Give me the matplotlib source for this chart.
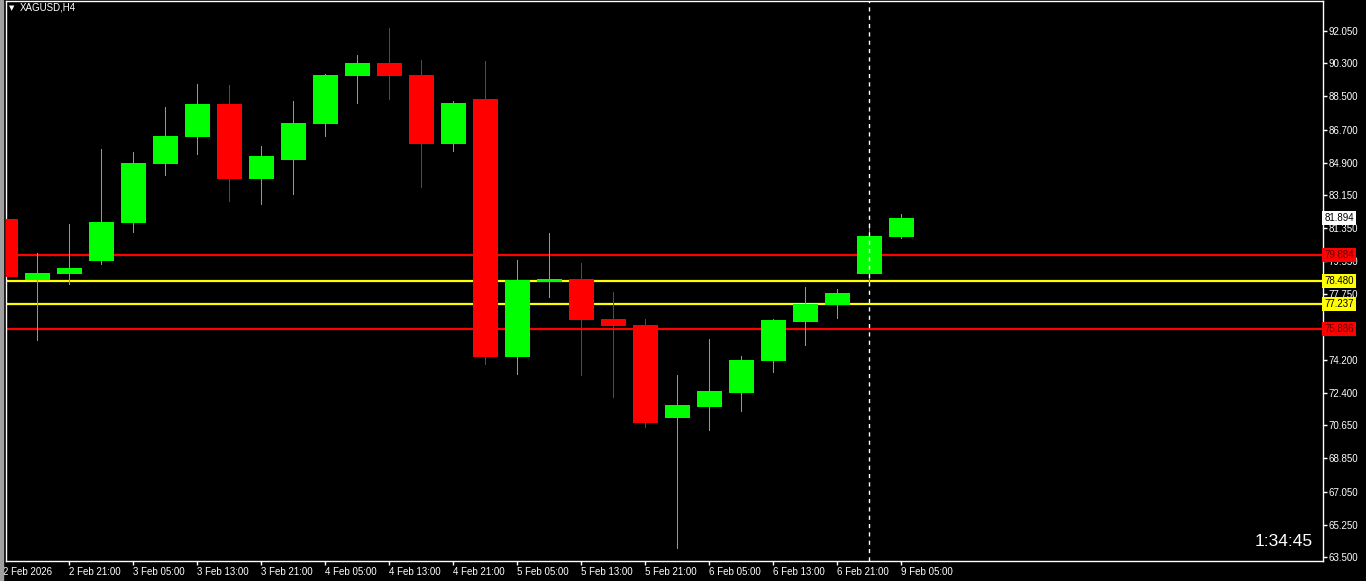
import numpy as np
import matplotlib.pyplot as plt
from matplotlib.patches import Rectangle

# XAGUSD H4 bars, 2 Feb 13:00 .. 9 Feb 05:00
opens  = [81.85, 78.54, 78.86, 79.57, 81.63, 84.83, 86.30, 88.09, 84.02, 85.05,
          87.00, 89.61, 90.31, 89.66, 85.92, 88.36, 74.36, 78.43, 78.59, 76.42,
          76.09, 71.04, 71.64, 72.40, 74.14, 76.26, 77.18, 78.86, 80.87]
highs  = [84.40, 80.00, 81.57, 85.65, 85.48, 87.93, 89.17, 89.12, 85.81, 88.25,
          89.72, 90.75, 92.21, 90.48, 88.25, 90.42, 79.62, 81.09, 79.46, 77.88,
          76.42, 73.38, 75.33, 74.41, 76.42, 78.16, 78.05, 81.63, 82.12]
lows   = [77.88, 75.28, 78.32, 79.40, 81.14, 84.23, 85.37, 82.82, 82.66, 83.20,
          86.35, 88.14, 88.36, 83.58, 85.54, 73.98, 73.43, 77.61, 73.38, 72.18,
          70.56, 63.99, 70.39, 71.42, 73.54, 75.01, 76.48, 78.43, 80.81]
closes = [78.70, 78.92, 79.19, 81.68, 84.89, 86.35, 88.09, 84.02, 85.27, 87.06,
          89.66, 90.31, 89.61, 85.92, 88.14, 74.36, 78.54, 78.59, 76.36, 76.04,
          70.77, 71.75, 72.51, 74.19, 76.36, 77.24, 77.83, 80.92, 81.894]

time_labels = ['2 Feb 21:00', '3 Feb 05:00', '3 Feb 13:00', '3 Feb 21:00',
               '4 Feb 05:00', '4 Feb 13:00', '4 Feb 21:00', '5 Feb 05:00',
               '5 Feb 13:00', '5 Feb 21:00', '6 Feb 05:00', '6 Feb 13:00',
               '6 Feb 21:00', '9 Feb 05:00']
label_bars = [2, 4, 6, 8, 10, 12, 14, 16, 18, 20, 22, 24, 26, 28]
separator_bar = 27

price_ticks = [92.050, 90.300, 88.500, 86.700, 84.900, 83.150, 81.350, 79.550,
               77.750, 75.950, 74.200, 72.400, 70.650, 68.850, 67.050, 65.250, 63.500]
hidden_tick = 75.950   # covered by the 75.886 box on the terminal

# horizontal levels: (price, colour)
levels = [(79.884, '#ff0000'), (78.480, '#ffff00'), (77.237, '#ffff00'), (75.886, '#ff0000')]
bid = 81.894

W, H = 1366, 581
fig = plt.figure(figsize=(W / 100, H / 100), dpi=100, facecolor='black')
ax = fig.add_axes([6 / W, 20 / H, 1317 / W, 560 / H], facecolor='black')
fig.patches.append(Rectangle((0, 0), 3 / W, 1, transform=fig.transFigure,
                             color='#a0a0a0', zorder=0))

font = 'Liberation Sans'
fs = 7

x = np.arange(len(opens))
o = np.array(opens); c = np.array(closes)
up = c >= o
cols = np.where(up, '#00ff00', '#ff0000')

ax.vlines(x, lows, highs, colors=cols, linewidth=0.72, zorder=2, antialiased=False)
ax.bar(x, np.abs(c - o), bottom=np.minimum(o, c), width=25 / 32, color=cols,
       linewidth=0, zorder=3)

for p, col in levels:
    ax.axhline(p, color=col, linewidth=1.6, zorder=1)

ax.axvline(separator_bar, color='white', linewidth=1, linestyle=(0, (3, 3)), zorder=4)

ax.set_xlim(0.02, 41.18)
ax.set_ylim(63.283, 93.678)

for s in ax.spines.values():
    s.set_color('white')
    s.set_linewidth(1)

ax.yaxis.tick_right()
ax.set_yticks(price_ticks)
ax.set_yticklabels(['' if v == hidden_tick else '%.3f' % v for v in price_ticks],
                   fontsize=fs, family=font, color='white')
ax.tick_params(axis='y', colors='white', length=3, width=1, pad=1, direction='out')

ax.set_xticks(label_bars)
ax.set_xticklabels(time_labels, fontsize=fs, family=font, color='white', ha='left')
ax.tick_params(axis='x', colors='white', length=3, width=1, pad=1, direction='out')
ax.text(-0.002, -0.01, '2 Feb 2026', transform=ax.transAxes, fontsize=fs, family=font,
        color='white', ha='left', va='top', clip_on=False)

# price boxes on the right axis
trans = ax.get_yaxis_transform()
ax.text(1.001, bid, '%.3f' % bid, transform=trans, fontsize=fs, family=font, color='black',
        ha='left', va='center', clip_on=False, zorder=6,
        bbox=dict(boxstyle='square,pad=0.2', fc='white', ec='none'))
for p, col in levels:
    ax.text(1.001, p, '%.3f' % p, transform=trans, fontsize=fs, family=font,
            color='#600000' if col == '#ff0000' else 'black',
            ha='left', va='center', clip_on=False, zorder=6,
            bbox=dict(boxstyle='square,pad=0.2', fc=col, ec='none'))

# symbol caption and bar timer
fig.text(9 / W, 1 - 8 / H, '\u25bc', fontsize=5, color='white', ha='left', va='center',
         family='DejaVu Sans')
fig.text(20 / W, 1 - 8 / H, 'XAGUSD,H4', fontsize=fs, family=font, color='white',
         ha='left', va='center')
fig.text(1313 / W, 1 - 542 / H, '1:34:45', fontsize=12.5, family=font, color='white',
         ha='right', va='center')

fig.savefig('out.png', dpi=100, facecolor='black')
